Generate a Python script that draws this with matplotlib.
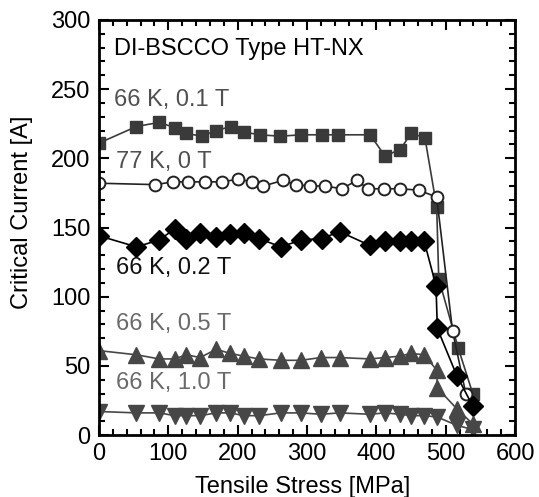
import matplotlib
matplotlib.use("Agg")
import matplotlib.pyplot as plt
from matplotlib.ticker import MultipleLocator

plt.rcParams['font.family'] = ['Liberation Sans', 'DejaVu Sans']

# Tensile stress [MPa] and critical current [A] for each condition
stress_01T = [0, 54, 87, 110, 126, 148, 169, 190, 209, 232, 261, 292, 321, 345, 391, 412, 434, 450, 470, 487, 490, 518, 539]
ic_01T = [211, 223, 226, 222, 218, 216, 220, 223, 219, 217, 216, 217, 217, 217, 217, 202, 206, 218, 215, 165, 113, 63, 30]

stress_0T = [0, 81, 107, 129, 153, 178, 201, 220, 237, 265, 284, 304, 326, 350, 372, 388, 411, 434, 461, 487, 510, 529]
ic_0T = [182, 181, 183, 183, 183, 183, 185, 183, 180, 184, 181, 180, 180, 178, 184, 178, 178, 178, 177, 172, 75, 30]

stress_02T = [0, 54, 87, 109, 126, 146, 169, 189, 209, 231, 262, 292, 321, 347, 391, 412, 434, 450, 469, 486, 488, 516, 539]
ic_02T = [144, 136, 141, 149, 142, 146, 143, 145, 146, 142, 136, 141, 142, 147, 137, 140, 140, 140, 140, 108, 77, 43, 21]

stress_05T = [0, 54, 87, 109, 126, 146, 169, 189, 209, 231, 262, 291, 320, 347, 391, 412, 434, 450, 469, 487, 488, 516, 539]
ic_05T = [61, 58, 55, 55, 58, 56, 62, 59, 57, 55, 54, 54, 56, 56, 55, 56, 57, 59, 58, 47, 34, 19, 8]

stress_10T = [0, 54, 87, 109, 126, 146, 169, 189, 209, 231, 262, 291, 320, 347, 391, 412, 434, 450, 469, 488, 516, 539]
ic_10T = [17, 16, 16, 14, 14, 14, 16, 16, 14, 14, 16, 16, 15, 16, 15, 16, 15, 14, 14, 13, 7, 4]

fig = plt.figure(figsize=(5.39, 4.97), dpi=100)
ax = fig.add_axes([0.1837, 0.1247, 0.7718, 0.8351])

dark = '#3a3a3a'
gray = '#474747'
ax.plot(stress_01T, ic_01T, '-s', color=dark, lw=1.2, ms=9, mec=dark, mfc=dark)
ax.plot(stress_0T, ic_0T, '-o', color='#222222', lw=1.2, ms=8.5, mec='#222222', mfc='white', mew=1.4)
ax.plot(stress_02T, ic_02T, '-D', color='black', lw=1.2, ms=10, mec='black', mfc='black')
ax.plot(stress_05T, ic_05T, '-^', color=gray, lw=1.2, ms=11.5, mec=gray, mfc=gray)
ax.plot(stress_10T, ic_10T, '-v', color=gray, lw=1.2, ms=11.5, mec=gray, mfc=gray)

ax.set_xlim(0, 600)
ax.set_ylim(0, 300)
ax.xaxis.set_major_locator(MultipleLocator(100))
ax.xaxis.set_minor_locator(MultipleLocator(20))
ax.yaxis.set_major_locator(MultipleLocator(50))
ax.yaxis.set_minor_locator(MultipleLocator(10))
ax.tick_params(which='both', direction='in', top=True, right=True, width=1.5, labelsize=17)
ax.tick_params(which='major', length=7, pad=6)
ax.tick_params(which='minor', length=4)
for s in ax.spines.values():
    s.set_linewidth(2)

ax.set_xlabel('Tensile Stress [MPa]', fontsize=17)
ax.set_ylabel('Critical Current [A]', fontsize=17)
ax.xaxis.set_label_coords(0.49, -0.098)
ax.yaxis.set_label_coords(-0.158, 0.537)

txt = dict(fontsize=17, va='center', ha='left')
ax.text(0.036, 0.931, 'DI-BSCCO Type HT-NX', transform=ax.transAxes, color='black', **txt)
ax.text(0.036, 0.807, '66 K, 0.1 T', transform=ax.transAxes, color='#505050', **txt)
ax.text(0.040, 0.658, '77 K, 0 T', transform=ax.transAxes, color='#505050', **txt)
ax.text(0.040, 0.402, '66 K, 0.2 T', transform=ax.transAxes, color='#111111', **txt)
ax.text(0.040, 0.267, '66 K, 0.5 T', transform=ax.transAxes, color='#6a6a6a', **txt)
ax.text(0.040, 0.125, '66 K, 1.0 T', transform=ax.transAxes, color='#6a6a6a', **txt)

fig.savefig('out.png', dpi=100)
